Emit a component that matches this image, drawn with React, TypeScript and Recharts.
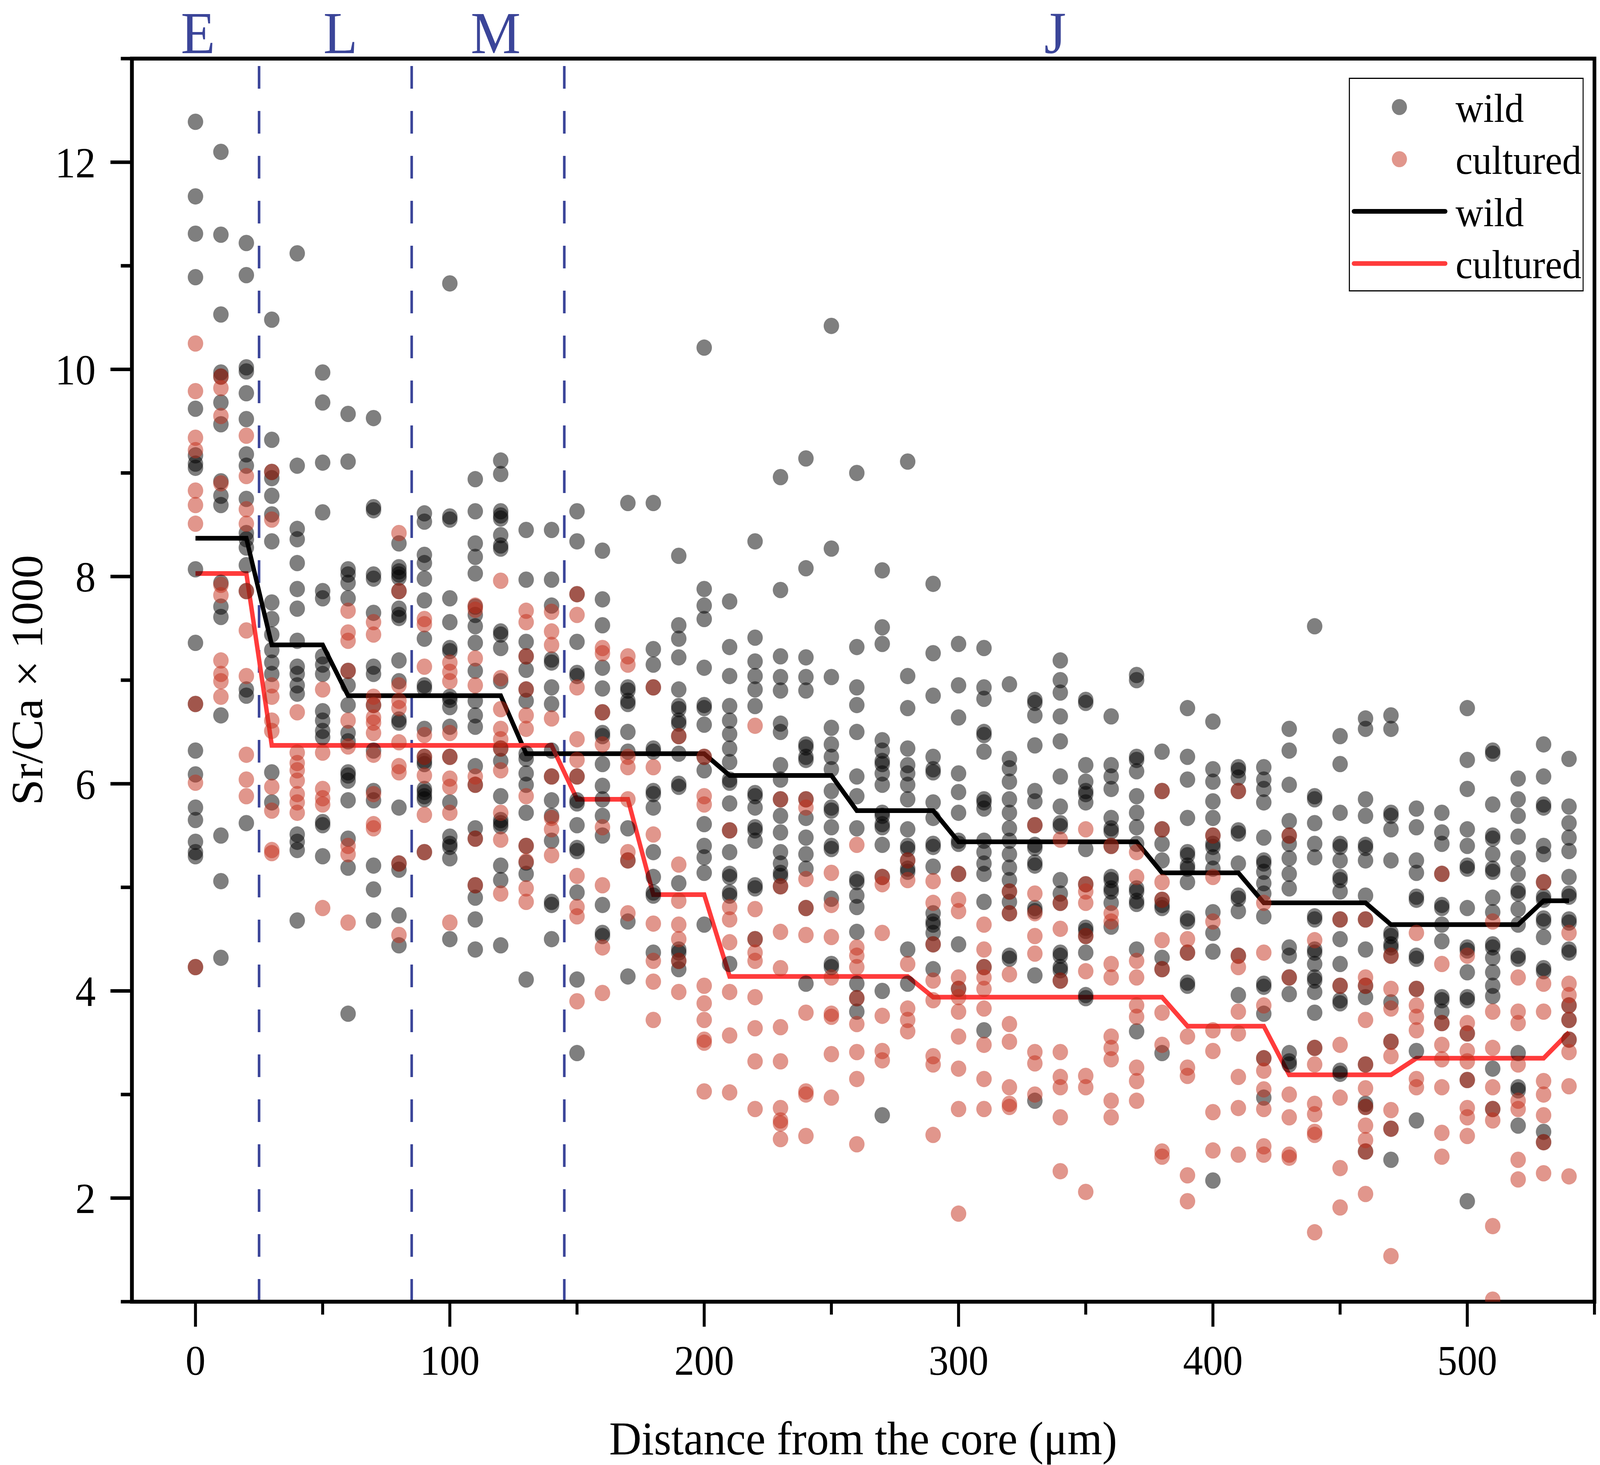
import React from 'react';
import {
  ComposedChart,
  Scatter,
  Line,
  XAxis,
  YAxis,
  ReferenceLine,
  ReferenceArea,
  Legend,
} from 'recharts';

// distance from the core (µm) of each measuring column
const DISTANCES = [
  0, 10, 20, 30, 40, 50, 60, 70, 80, 90, 100, 110, 120, 130, 140, 150, 160, 170, 180, 190,
  200, 210, 220, 230, 240, 250, 260, 270, 280, 290, 300, 310, 320, 330, 340, 350, 360, 370, 380, 390,
  400, 410, 420, 430, 440, 450, 460, 470, 480, 490, 500, 510, 520, 530, 540,
];

// mean Sr/Ca x 1000 per column
const WILD_MEAN = [
  8.37, 8.37, 8.37, 7.34, 7.34, 7.34, 6.85, 6.85, 6.85, 6.85, 6.85, 6.85, 6.85, 6.29, 6.29, 6.29, 6.29, 6.29, 6.29, 6.29,
  6.29, 6.08, 6.08, 6.08, 6.08, 6.08, 5.74, 5.74, 5.74, 5.74, 5.44, 5.44, 5.44, 5.44, 5.44, 5.44, 5.44, 5.44, 5.14, 5.14,
  5.14, 5.14, 4.85, 4.85, 4.85, 4.85, 4.85, 4.64, 4.64, 4.64, 4.64, 4.64, 4.64, 4.87, 4.87,
];
const CULTURED_MEAN = [
  8.03, 8.03, 8.03, 6.37, 6.37, 6.37, 6.37, 6.37, 6.37, 6.37, 6.37, 6.37, 6.37, 6.37, 6.37, 5.85, 5.85, 5.85, 4.93, 4.93,
  4.93, 4.14, 4.14, 4.14, 4.14, 4.14, 4.14, 4.14, 4.14, 3.94, 3.94, 3.94, 3.94, 3.94, 3.94, 3.94, 3.94, 3.94, 3.94, 3.66,
  3.66, 3.66, 3.66, 3.19, 3.19, 3.19, 3.19, 3.19, 3.35, 3.35, 3.35, 3.35, 3.35, 3.35, 3.6,
];

// individual measurements, one list per distance
const WILD_VALUES = [
  [12.39, 11.67, 11.31, 10.89, 9.62, 9.17, 9.09, 9.05, 8.07, 7.36, 6.77, 6.32, 6.09, 5.77, 5.65, 5.44, 5.34, 5.3, 4.23],
  [12.1, 11.3, 10.53, 9.97, 9.93, 9.68, 9.47, 8.92, 8.78, 8.69, 7.94, 7.71, 7.61, 6.66, 5.5, 5.06, 4.32],
  [11.22, 10.91, 10.02, 9.98, 9.77, 9.52, 9.18, 9.07, 8.75, 8.42, 8.36, 8.28, 8.11, 7.86, 6.91, 6.85, 5.62],
  [10.48, 9.32, 9.01, 8.95, 8.78, 8.6, 8.34, 7.75, 7.59, 7.44, 7.29, 7.17, 7.06, 6.11, 5.82],
  [11.12, 9.07, 8.46, 8.36, 8.13, 7.88, 7.69, 7.38, 7.13, 7.06, 6.95, 6.87, 5.51, 5.44, 5.36, 4.68],
  [9.97, 9.68, 9.1, 8.62, 7.86, 7.79, 7.23, 7.15, 7.06, 6.7, 6.61, 6.51, 6.45, 5.63, 5.6, 5.3],
  [9.57, 9.11, 8.07, 8.02, 7.94, 7.79, 7.09, 6.95, 6.76, 6.49, 6.41, 6.11, 6.08, 6.03, 5.84, 5.47, 5.19, 3.78],
  [9.53, 8.67, 8.64, 8.02, 7.98, 7.65, 7.13, 7.06, 6.76, 6.32, 5.93, 5.84, 5.21, 4.98, 4.68],
  [8.32, 8.09, 8.05, 8.02, 7.99, 7.86, 7.69, 7.63, 7.6, 7.19, 6.99, 6.62, 6.59, 5.77, 5.23, 5.17, 4.73, 4.44],
  [8.61, 8.53, 8.21, 8.13, 7.98, 7.77, 7.4, 6.95, 6.92, 6.53, 6.26, 6.22, 6.19, 5.95, 5.92, 5.88, 5.85, 5.34],
  [10.83, 8.58, 8.55, 7.79, 7.56, 7.31, 7.28, 6.84, 6.81, 6.74, 6.55, 6.26, 5.82, 5.49, 5.42, 5.39, 5.28, 4.5],
  [8.94, 8.63, 8.32, 8.19, 8.03, 7.71, 7.63, 7.52, 7.36, 7.09, 6.8, 6.66, 6.55, 6.17, 5.99, 5.57, 5.47, 5.02, 4.9, 4.69, 4.4],
  [9.12, 8.99, 8.63, 8.59, 8.56, 8.4, 8.3, 8.27, 7.47, 7.44, 7.31, 6.99, 6.34, 6.22, 5.88, 5.65, 5.62, 5.59, 5.21, 5.07, 4.44],
  [8.45, 7.97, 7.37, 7.23, 7.1, 6.91, 6.8, 6.29, 6.24, 6.1, 5.99, 5.72, 5.4, 5.24, 5.13, 4.11],
  [8.45, 7.97, 7.72, 7.2, 7.17, 6.93, 6.77, 6.32, 6.07, 5.84, 5.69, 5.45, 4.86, 4.83, 4.5],
  [8.63, 8.34, 7.83, 7.37, 7.07, 7.04, 6.07, 5.84, 5.81, 5.6, 5.38, 5.35, 4.95, 4.11, 3.4],
  [8.25, 7.78, 7.53, 7.12, 6.92, 6.69, 6.49, 6.46, 6.19, 5.98, 5.85, 5.69, 5.5, 4.83, 4.56, 4.53],
  [8.71, 6.93, 6.9, 6.8, 6.77, 6.5, 6.31, 5.57, 5.26, 4.67, 4.14],
  [8.71, 7.3, 7.15, 6.93, 6.34, 6.31, 5.93, 5.9, 5.77, 5.34, 5.1, 4.95, 4.92, 4.37],
  [8.2, 7.53, 7.4, 7.22, 6.91, 6.75, 6.72, 6.61, 6.58, 6.46, 6.29, 6.0, 5.97, 5.04, 4.4, 4.37, 4.29, 4.21],
  [10.21, 7.88, 7.72, 7.59, 7.12, 6.76, 6.73, 6.57, 6.26, 6.13, 5.61, 5.4, 5.29, 5.14, 4.64],
  [7.76, 7.32, 7.04, 6.75, 6.61, 6.48, 6.34, 6.21, 6.04, 6.01, 5.81, 5.55, 5.34, 5.13, 5.1, 4.95, 4.92, 4.26],
  [8.34, 7.41, 7.18, 7.04, 6.91, 6.75, 5.91, 5.88, 5.77, 5.58, 5.55, 5.45, 5.02, 4.99, 4.5],
  [8.96, 7.87, 7.23, 7.03, 6.9, 6.58, 6.5, 6.18, 6.04, 5.85, 5.69, 5.53, 5.34, 5.23, 5.14, 5.11, 5.01],
  [9.14, 8.08, 7.22, 7.03, 6.9, 6.38, 6.35, 6.26, 6.23, 5.85, 5.67, 5.48, 5.32, 5.18, 4.8, 4.07],
  [10.42, 8.27, 7.03, 6.54, 6.38, 6.26, 6.14, 5.93, 5.77, 5.74, 5.58, 5.4, 5.37, 4.89, 4.26, 4.23],
  [9.0, 7.32, 6.93, 6.76, 6.5, 6.07, 5.88, 5.57, 5.08, 5.05, 4.92, 4.81, 4.57, 4.07, 3.93, 3.8],
  [8.06, 7.51, 7.35, 6.42, 6.32, 6.22, 6.19, 6.1, 5.99, 5.72, 5.69, 5.61, 5.58, 5.41, 5.1, 4.0, 2.8],
  [9.11, 7.04, 6.73, 6.34, 6.18, 6.1, 5.99, 5.85, 5.56, 5.4, 5.37, 5.26, 5.18, 5.15, 4.4, 4.07],
  [7.93, 7.26, 6.85, 6.26, 6.14, 6.11, 5.82, 5.67, 5.42, 5.39, 5.2, 4.75, 4.67, 4.64, 4.56, 4.45, 4.21],
  [7.35, 6.95, 6.64, 6.1, 5.92, 5.72, 5.45, 5.42, 5.13, 4.45, 4.02],
  [7.31, 6.93, 6.82, 6.5, 6.47, 6.31, 5.85, 5.82, 5.76, 5.45, 5.34, 5.23, 5.13, 4.86, 4.23, 3.62],
  [6.96, 6.24, 6.15, 6.02, 5.85, 5.72, 5.57, 5.45, 5.32, 5.19, 5.07, 4.96, 4.86, 4.75, 4.34, 4.31],
  [6.81, 6.78, 6.66, 6.37, 5.93, 5.83, 5.6, 5.41, 5.38, 5.24, 5.21, 4.8, 4.77, 4.15, 2.94],
  [7.19, 7.0, 6.88, 6.65, 6.41, 6.07, 5.78, 5.62, 5.59, 5.07, 4.94, 4.85, 4.37, 4.34, 4.23, 4.2, 4.1],
  [6.81, 6.78, 6.18, 6.02, 5.93, 5.9, 5.82, 5.37, 5.03, 4.61, 4.58, 4.53, 4.37, 3.96, 3.93],
  [6.65, 6.18, 6.07, 5.95, 5.67, 5.57, 5.54, 5.4, 5.1, 5.07, 4.99, 4.96, 4.85, 4.62],
  [7.05, 7.0, 6.26, 6.23, 6.12, 5.88, 5.72, 5.58, 5.42, 4.99, 4.96, 4.87, 4.84, 4.4, 3.61],
  [6.31, 5.93, 5.56, 5.42, 5.26, 4.88, 4.83, 4.8, 4.32, 4.21, 3.4],
  [6.73, 6.26, 6.04, 5.67, 5.34, 5.31, 5.21, 5.18, 5.05, 4.7, 4.67, 4.37, 4.08, 4.05],
  [6.6, 6.14, 6.02, 5.83, 5.67, 5.5, 5.42, 5.39, 5.29, 5.18, 4.76, 4.56, 4.38, 2.17],
  [6.16, 6.13, 6.06, 5.93, 5.55, 5.52, 5.23, 4.92, 4.89, 4.77, 4.34, 3.96],
  [6.16, 6.04, 5.95, 5.82, 5.48, 5.26, 5.23, 5.15, 5.04, 4.94, 4.72, 4.07, 4.04, 3.78, 3.35, 2.97],
  [6.53, 6.32, 5.99, 5.64, 5.5, 5.42, 5.28, 5.13, 4.99, 4.42, 4.34, 4.13, 3.97, 3.4, 3.32, 3.29],
  [7.52, 5.88, 5.85, 5.62, 5.42, 5.29, 4.72, 4.69, 4.4, 4.37, 4.26, 4.13, 4.1, 3.99, 3.79, 3.45],
  [6.46, 6.19, 5.72, 5.42, 5.39, 5.26, 5.1, 5.07, 4.96, 4.69, 4.5, 4.26, 4.05, 3.91, 3.88, 3.23, 3.2],
  [6.63, 6.53, 5.85, 5.69, 5.41, 5.38, 5.26, 4.92, 4.69, 4.4, 4.05, 3.94, 3.29, 2.91, 2.88, 2.45],
  [6.66, 6.53, 5.72, 5.69, 5.56, 5.26, 4.56, 4.53, 4.45, 4.42, 4.34, 3.89, 3.51, 2.67, 2.37],
  [5.76, 5.58, 5.26, 5.14, 4.91, 4.88, 4.34, 4.31, 4.02, 3.42, 2.75],
  [5.72, 5.53, 5.42, 5.13, 4.83, 4.8, 4.64, 4.48, 3.94, 3.91, 3.8, 3.69],
  [6.73, 6.23, 5.95, 5.56, 5.4, 5.21, 5.18, 4.8, 4.42, 4.39, 4.18, 3.94, 3.91, 3.59, 3.14, 1.97],
  [6.32, 6.29, 5.8, 5.5, 5.47, 5.32, 5.18, 5.15, 4.9, 4.76, 4.45, 4.42, 4.32, 4.18, 4.05, 3.95, 3.25, 2.86],
  [6.05, 5.85, 5.69, 5.49, 5.28, 5.13, 4.97, 4.94, 4.79, 4.64, 4.34, 4.31, 3.4, 3.07, 3.04, 2.7],
  [6.38, 6.07, 5.8, 5.77, 5.4, 5.32, 5.05, 4.91, 4.88, 4.7, 4.67, 4.52, 4.22, 4.19, 2.64, 2.54],
  [6.24, 5.78, 5.62, 5.48, 5.35, 5.1, 4.94, 4.91, 4.69, 4.66, 4.4, 4.37, 3.86, 3.72, 3.53],
];

const CULTURED_VALUES = [
  [10.25, 9.79, 9.34, 9.22, 8.83, 8.69, 8.51, 6.77, 6.01, 4.23],
  [9.93, 9.82, 9.55, 8.9, 7.92, 7.82, 7.19, 7.06, 6.99, 6.84],
  [9.36, 8.97, 8.65, 8.51, 7.86, 7.48, 7.04, 6.28, 6.04, 5.88],
  [9.01, 8.55, 6.95, 6.84, 6.61, 6.51, 5.97, 5.74, 5.36, 5.33],
  [6.69, 6.3, 6.2, 6.13, 6.03, 5.9, 5.82, 5.72],
  [6.91, 6.3, 5.95, 5.86, 5.8, 4.8],
  [7.67, 7.46, 7.38, 7.09, 6.61, 6.36, 5.4, 5.32, 4.66],
  [7.56, 7.44, 6.84, 6.76, 6.64, 6.59, 6.49, 6.28, 5.9, 5.61, 5.57],
  [8.42, 7.86, 6.95, 6.8, 6.73, 6.4, 6.17, 6.11, 5.23, 4.54],
  [7.59, 7.54, 7.13, 6.47, 6.26, 6.08, 5.7, 5.34],
  [7.17, 7.08, 6.99, 6.49, 6.26, 6.05, 5.97, 5.72, 4.66],
  [7.72, 7.68, 7.21, 6.95, 6.07, 5.99, 5.47, 5.02],
  [7.96, 7.02, 6.72, 6.53, 6.43, 6.34, 6.13, 5.72, 5.46, 4.94],
  [7.67, 7.56, 7.23, 6.91, 6.66, 6.53, 5.88, 5.4, 5.25, 4.99, 4.86],
  [7.66, 7.47, 7.34, 6.63, 6.07, 5.67, 5.56, 5.31],
  [7.83, 7.63, 6.93, 6.43, 6.23, 6.07, 5.11, 4.81, 4.72, 3.9],
  [7.31, 7.26, 6.69, 6.38, 5.58, 5.02, 4.42, 3.98],
  [7.23, 7.15, 6.26, 6.16, 5.85, 5.34, 5.26, 4.75],
  [6.93, 6.16, 5.51, 4.65, 4.29, 4.09, 3.72],
  [6.46, 5.22, 4.87, 4.64, 4.5, 4.29, 3.99],
  [6.26, 5.88, 5.8, 4.05, 3.88, 3.72, 3.53, 3.5, 3.03],
  [5.55, 4.81, 4.69, 4.47, 3.99, 3.57, 3.02],
  [6.56, 4.79, 4.5, 4.37, 4.29, 3.94, 3.64, 3.32, 2.86],
  [5.85, 5.01, 4.57, 4.22, 3.65, 3.32, 2.87, 2.75, 2.72, 2.57],
  [5.85, 5.77, 5.08, 4.8, 4.54, 3.79, 3.03, 3.0, 2.6],
  [5.14, 4.83, 4.52, 4.13, 3.78, 3.75, 3.39, 2.97],
  [5.41, 4.42, 4.34, 4.23, 3.93, 3.68, 3.41, 3.15, 2.52],
  [5.1, 5.03, 4.56, 3.76, 3.42, 3.33],
  [5.26, 5.07, 4.26, 3.83, 3.72, 3.61],
  [5.06, 4.85, 4.45, 4.1, 3.91, 3.37, 3.29, 2.61],
  [5.13, 4.88, 4.77, 4.13, 4.02, 3.94, 3.8, 3.56, 3.25, 2.86, 1.85],
  [4.64, 4.4, 4.23, 4.13, 4.02, 3.83, 3.48, 3.15, 2.86],
  [4.96, 4.75, 4.16, 3.68, 3.51, 3.07, 2.91, 2.88],
  [5.6, 4.94, 4.75, 4.53, 4.36, 3.41, 3.3, 3.0],
  [5.46, 4.85, 4.6, 4.1, 3.41, 3.17, 3.07, 2.78, 2.26],
  [5.56, 5.03, 4.96, 4.85, 4.53, 4.19, 3.18, 3.07, 2.06],
  [5.4, 4.75, 4.67, 4.26, 4.13, 3.56, 3.45, 3.34, 2.94, 2.78],
  [5.34, 5.1, 4.29, 4.13, 3.86, 3.75, 3.26, 3.13, 2.94],
  [5.93, 5.56, 5.05, 4.88, 4.49, 4.21, 3.79, 3.48, 2.45, 2.4],
  [4.5, 4.37, 3.56, 3.26, 3.18, 2.22, 1.97],
  [5.5, 5.1, 4.67, 3.62, 3.42, 2.83, 2.46],
  [5.93, 4.34, 4.23, 3.8, 3.59, 3.17, 2.87, 2.42],
  [4.85, 4.37, 3.86, 3.35, 3.23, 3.05, 2.86, 2.5, 2.42],
  [5.5, 4.13, 3.0, 2.78, 2.42, 2.39],
  [4.49, 3.45, 3.29, 2.91, 2.81, 2.64, 2.61, 1.67],
  [4.69, 4.05, 3.48, 2.97, 2.29, 1.91],
  [4.69, 4.13, 4.05, 3.72, 3.29, 3.06, 2.88, 2.7, 2.56, 2.45, 2.04],
  [4.34, 4.02, 3.83, 3.51, 3.37, 2.85, 2.67, 1.44],
  [4.56, 4.02, 3.86, 3.75, 3.62, 3.15, 3.07],
  [5.13, 4.26, 3.69, 3.48, 3.34, 3.07, 2.63, 2.4],
  [4.34, 3.69, 3.59, 3.42, 3.32, 3.14, 2.87, 2.78, 2.6],
  [4.67, 3.8, 3.45, 3.07, 2.86, 2.75, 1.73, 1.02],
  [4.13, 3.8, 3.69, 3.29, 2.94, 2.86, 2.37, 2.18],
  [5.05, 4.07, 3.8, 3.13, 3.0, 2.8, 2.54, 2.24],
  [4.56, 4.07, 3.96, 3.86, 3.72, 3.53, 3.41, 3.08, 2.21],
];

const X_TICKS = [0, 50, 100, 150, 200, 250, 300, 350, 400, 450, 500, 550];
const Y_TICKS = [1, 2, 3, 4, 5, 6, 7, 8, 9, 10, 11, 12, 13];
const ZONE_BOUNDS = [25, 85, 145];
const ZONE_LABELS = [
  { name: 'E', at: 1 },
  { name: 'L', at: 57 },
  { name: 'M', at: 118 },
  { name: 'J', at: 338 },
];

const SERIF = "'Liberation Serif', 'Times New Roman', Times, serif";
const ZONE_BLUE = '#3b4599';
const CULT_DOT = '#c32d19';
const CULT_LINE = '#ff3b3b';
const DOT_R = 20.5;

const W = 4331;
const H = 3750;
const TOP = 150;
const LEFT = 357;
const RIGHT_GAP = 15;
const BOTTOM_H = 418;

const wildPoints = DISTANCES.flatMap((x, i) => WILD_VALUES[i].map(y => ({ x, y })));
const culturedPoints = DISTANCES.flatMap((x, i) => CULTURED_VALUES[i].map(y => ({ x, y })));
const meanRows = DISTANCES.map((x, i) => ({ x, wild: WILD_MEAN[i], cultured: CULTURED_MEAN[i] }));

const LEGEND_ITEMS = [
  { label: 'wild', kind: 'dot', color: '#000' },
  { label: 'cultured', kind: 'dot', color: CULT_DOT },
  { label: 'wild', kind: 'line', color: '#000' },
  { label: 'cultured', kind: 'line', color: CULT_LINE },
];

const WildDot = (props: any) => (
  <circle cx={props.cx} cy={props.cy} r={DOT_R} fill="#000" fillOpacity={0.5} stroke="#000" strokeOpacity={0.15} strokeWidth={2} />
);

const CulturedDot = (props: any) => (
  <circle cx={props.cx} cy={props.cy} r={DOT_R} fill={CULT_DOT} fillOpacity={0.5} stroke={CULT_DOT} strokeOpacity={0.15} strokeWidth={2} />
);

const XTick = (props: any) => {
  const { x, y, payload } = props;
  const major = payload.value % 100 === 0;
  return (
    <g>
      <line x1={x} y1={y} x2={x} y2={y + (major ? 64 : 33)} stroke="#000" strokeWidth={8} />
      {major && (
        <text x={x} y={y + 187} textAnchor="middle" fontSize={108} fontFamily={SERIF} fill="#000">
          {payload.value}
        </text>
      )}
    </g>
  );
};

const YTick = (props: any) => {
  const { x, y, payload } = props;
  const major = payload.value % 2 === 0;
  return (
    <g>
      <line x1={x} y1={y} x2={x - (major ? 58 : 30)} y2={y} stroke="#000" strokeWidth={9} />
      {major && (
        <text x={x - 98} y={y} dy="0.35em" textAnchor="end" fontSize={110} fontFamily={SERIF} fill="#000">
          {payload.value}
        </text>
      )}
    </g>
  );
};

const LegendBox = () => (
  <svg width={636} height={547} style={{ display: 'block' }}>
    <rect x={1.5} y={1.5} width={633} height={544} fill="#fff" stroke="#000" strokeWidth={3} />
    {LEGEND_ITEMS.map((item, i) => {
      const cy = 75 + i * 133.5;
      return (
        <g key={i}>
          {item.kind === 'dot' ? (
            <circle cx={137} cy={cy} r={DOT_R} fill={item.color} fillOpacity={0.5} />
          ) : (
            <line x1={14} x2={261} y1={cy} y2={cy} stroke={item.color} strokeWidth={12} strokeLinecap="round" />
          )}
          <text x={289} y={cy + 38} fontSize={104} fontFamily={SERIF} fill="#000">
            {item.label}
          </text>
        </g>
      );
    })}
  </svg>
);

const ZoneLabel = (name: string) => (props: any) => {
  const x = props.viewBox?.x ?? 0;
  return (
    <text x={x} y={TOP - 14} textAnchor="middle" fontSize={152} fontFamily={SERIF} fill={ZONE_BLUE}>
      {name}
    </text>
  );
};

const plotMidY = TOP + (H - TOP - BOTTOM_H) / 2;
const plotMidX = LEFT + (W - LEFT - RIGHT_GAP) / 2;
const Y_TITLE_X = 114;

export default function App() {
  // stretch the fixed 4331x3750 figure over the CSS viewport the browser reports
  const vw = typeof window !== 'undefined' && window.innerWidth > 0 ? window.innerWidth : W;
  const vh = typeof window !== 'undefined' && window.innerHeight > 0 ? window.innerHeight : H;
  const sx = vw / W;
  const sy = vh / H;

  return (
    <div style={{ position: 'absolute', left: 0, top: 0, width: vw, height: vh, overflow: 'hidden', background: '#fff' }}>
      <div style={{ width: W, height: H, transform: `scale(${sx}, ${sy})`, transformOrigin: '0 0' }}>
        <ComposedChart width={W} height={H} margin={{ top: TOP, right: RIGHT_GAP, bottom: 0, left: 0 }}>
          <XAxis
            type="number"
            dataKey="x"
            domain={[-25, 550]}
            allowDataOverflow
            ticks={X_TICKS}
            interval={0}
            tickSize={0}
            tickMargin={0}
            height={BOTTOM_H}
            axisLine={{ stroke: '#000', strokeWidth: 10 }}
            tick={<XTick />}
            label={() => (
              <text x={plotMidX} y={3723} textAnchor="middle" fontSize={121} fontFamily={SERIF} fill="#000">
                Distance from the core (μm)
              </text>
            )}
          />
          <YAxis
            type="number"
            domain={[1, 13]}
            allowDataOverflow
            ticks={Y_TICKS}
            interval={0}
            tickSize={0}
            tickMargin={0}
            width={LEFT}
            axisLine={{ stroke: '#000', strokeWidth: 10 }}
            tick={<YTick />}
            label={() => (
              <text
                x={Y_TITLE_X}
                y={plotMidY}
                transform={`rotate(-90, ${Y_TITLE_X}, ${plotMidY})`}
                textAnchor="middle"
                fontSize={120}
                fontFamily={SERIF}
                fill="#000"
              >
                Sr/Ca × 1000
              </text>
            )}
          />

          {ZONE_BOUNDS.map(b => (
            <ReferenceLine key={b} x={b} stroke={ZONE_BLUE} strokeWidth={7} strokeDasharray="58 57" />
          ))}
          {ZONE_LABELS.map(z => (
            <ReferenceLine key={z.name} x={z.at} stroke="none" label={ZoneLabel(z.name)} />
          ))}

          <Scatter name="wild" data={wildPoints} dataKey="y" shape={WildDot} isAnimationActive={false} />
          <Scatter name="cultured" data={culturedPoints} dataKey="y" shape={CulturedDot} isAnimationActive={false} />

          <Line
            data={meanRows}
            dataKey="wild"
            type="linear"
            stroke="#000"
            strokeWidth={12}
            dot={false}
            activeDot={false}
            isAnimationActive={false}
          />
          <Line
            data={meanRows}
            dataKey="cultured"
            type="linear"
            stroke={CULT_LINE}
            strokeWidth={12}
            dot={false}
            activeDot={false}
            isAnimationActive={false}
          />

          {/* plot frame (top and right borders) */}
          <ReferenceArea x1={-25} x2={550} y1={1} y2={13} fill="none" stroke="#000" strokeWidth={10} />

          <Legend
            layout="vertical"
            verticalAlign="middle"
            align="center"
            content={() => <LegendBox />}
            wrapperStyle={{ left: 3651, top: 199, width: 636, height: 547, lineHeight: 0 }}
          />
        </ComposedChart>
      </div>
    </div>
  );
}
